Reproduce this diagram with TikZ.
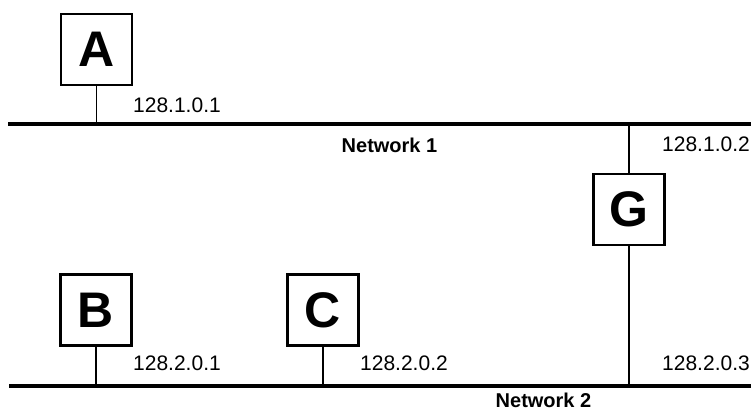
\documentclass[tikz,border=0pt]{standalone}
\usepackage{fontspec}
\setmainfont{Liberation Sans}
\begin{document}
\begin{tikzpicture}[x=1pt,y=-1pt,
  host/.style={draw,line width=2.6pt,minimum size=71pt,inner sep=0pt,
    font=\fontsize{50}{50}\selectfont\bfseries},
  netline/.style={line width=3.2pt},
  stub/.style={line width=1.3pt},
  addr/.style={anchor=base west,inner sep=0pt,font=\fontsize{21}{21}\selectfont},
  netname/.style={anchor=base,inner sep=0pt,font=\fontsize{20}{20}\selectfont\bfseries}]
\useasboundingbox (0,0) rectangle (751,414);

% networks
\coordinate (n1w) at (8,124);
\coordinate (n1e) at (751,124);
\coordinate (n2w) at (9,386);
\coordinate (n2e) at (751,386);
\draw[netline] (n1w) -- (n1e);
\draw[netline] (n2w) -- (n2e);
\node[netname] (net1) at (389.5,153) {Network 1};
\node[netname] (net2) at (543.5,407) {Network 2};

% hosts and gateway
\node[host] (A) at (96.5,49.5) {A};
\node[host] (G) at (629,209.5) {G};
\node[host] (B) at (96,310) {B};
\node[host] (C) at (323,310) {C};

% attachment points on the networks
\coordinate (tA) at (A.south |- n1w);
\coordinate (tG1) at (G.north |- n1w);
\coordinate (tG2) at (G.south |- n2w);
\coordinate (tB) at (B.south |- n2w);
\coordinate (tC) at (C.south |- n2w);
\draw[stub] (A.south) -- (tA);
\draw[stub] (G.north) -- (tG1);
\draw[stub] (G.south) -- (tG2);
\draw[stub] (B.south) -- (tB);
\draw[stub] (C.south) -- (tC);

% addresses
\node[addr] (aA) at (133,113) {128.1.0.1};
\node[addr] (aG1) at (662,152) {128.1.0.2};
\node[addr] (aB) at (133,370) {128.2.0.1};
\node[addr] (aC) at (360,370) {128.2.0.2};
\node[addr] (aG2) at (662,370) {128.2.0.3};
\end{tikzpicture}
\end{document}
